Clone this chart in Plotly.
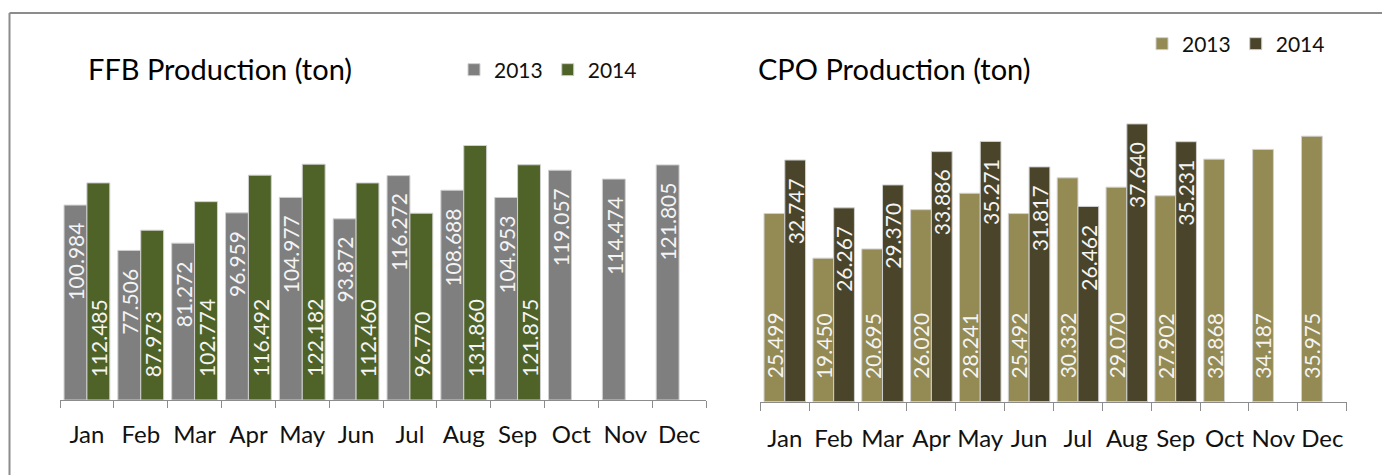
import plotly.graph_objects as go

months = ["Jan", "Feb", "Mar", "Apr", "May", "Jun", "Jul", "Aug", "Sep", "Oct", "Nov", "Dec"]

ffb_2013 = [100984, 77506, 81272, 96959, 104977, 93872, 116272, 108688, 104953, 119057, 114474, 121805]
ffb_2014 = [112485, 87973, 102774, 116492, 122182, 112460, 96770, 131860, 121875, None, None, None]

cpo_2013 = [25499, 19450, 20695, 26020, 28241, 25492, 30332, 29070, 27902, 32868, 34187, 35975]
cpo_2014 = [32747, 26267, 29370, 33886, 35271, 31817, 26462, 37640, 35231, None, None, None]

C_FFB13 = "#7f7f7f"
C_FFB14 = "#4f6228"
C_CPO13 = "#948a54"
C_CPO14 = "#4a452a"

FONT = "Lato, 'Noto Sans', sans-serif"
W, H = 1382, 475


def fmt(v):
    return f"{v:,}".replace(",", ".")


fig = go.Figure()
line = dict(color="#d0d0d0", width=1)

fig.add_trace(go.Bar(x=months, y=ffb_2013, name="2013", marker=dict(color=C_FFB13, line=line),
                     xaxis="x", yaxis="y", legend="legend", hoverinfo="x+y"))
fig.add_trace(go.Bar(x=months, y=ffb_2014, name="2014", marker=dict(color=C_FFB14, line=line),
                     xaxis="x", yaxis="y", legend="legend", hoverinfo="x+y"))
fig.add_trace(go.Bar(x=months, y=cpo_2013, name="2013", marker=dict(color=C_CPO13, line=line),
                     xaxis="x2", yaxis="y2", legend="legend2", hoverinfo="x+y"))
fig.add_trace(go.Bar(x=months, y=cpo_2014, name="2014", marker=dict(color=C_CPO14, line=line),
                     xaxis="x2", yaxis="y2", legend="legend2", hoverinfo="x+y"))

annotations = []
lab_font = dict(family=FONT, size=21, color="#f4f4f4")


def add_labels(values, xref, yref, xshift, at_base):
    for m, v in zip(months, values):
        if v is None:
            continue
        if at_base:
            annotations.append(dict(x=m, y=0, xref=xref, yref=yref, text=fmt(v), showarrow=False,
                                    textangle=-90, xanchor="center", yanchor="bottom",
                                    xshift=xshift, yshift=21, font=lab_font))
        else:
            annotations.append(dict(x=m, y=v, xref=xref, yref=yref, text=fmt(v), showarrow=False,
                                    textangle=-90, xanchor="center", yanchor="top",
                                    xshift=xshift, yshift=-16, font=lab_font))


add_labels(ffb_2013, "x", "y", -11.4, False)
add_labels(ffb_2014, "x", "y", 11.4, True)
add_labels(cpo_2013, "x2", "y2", -10.3, True)
add_labels(cpo_2014, "x2", "y2", 10.3, False)

title_font = dict(family=FONT, size=29, color="#000000")
annotations.append(dict(text="FFB Production (ton)", x=86 / W, y=1 - 68 / H, xref="paper", yref="paper",
                        xanchor="left", yanchor="middle", showarrow=False, font=title_font))
annotations.append(dict(text="CPO Production (ton)", x=756 / W, y=1 - 68 / H, xref="paper", yref="paper",
                        xanchor="left", yanchor="middle", showarrow=False, font=title_font))

axis_common = dict(showgrid=False, zeroline=False, showline=True, linecolor="#8c8c8c", linewidth=1,
                   ticks="outside", tickcolor="#8c8c8c", tickwidth=1, tickson="boundaries", tickangle=0,
                   tickfont=dict(family=FONT, size=24, color="#111111"), fixedrange=True)
yaxis_common = dict(showgrid=False, zeroline=False, showline=False, showticklabels=False, ticks="",
                    fixedrange=True)

legend_common = dict(orientation="h", xanchor="left", yanchor="middle",
                     font=dict(family=FONT, size=21, color="#111111"),
                     bgcolor="rgba(0,0,0,0)", itemclick=False, itemdoubleclick=False)

fig.update_layout(
    width=W, height=H,
    margin=dict(l=0, r=0, t=0, b=0),
    paper_bgcolor="white", plot_bgcolor="white",
    barmode="group",
    bargap=0.15, bargroupgap=0,
    xaxis=dict(domain=[60 / W, 706 / W], anchor="y", ticklen=7, ticklabelstandoff=13, **axis_common),
    yaxis=dict(domain=[1 - 400 / H, 1 - 105 / H], range=[0, 295 / 1.93 * 1000], anchor="x", **yaxis_common),
    xaxis2=dict(domain=[760 / W, 1346.7 / W], anchor="y2", ticklen=8, ticklabelstandoff=15, **axis_common),
    yaxis2=dict(domain=[1 - 401.7 / H, 1 - 105 / H], range=[0, 296.7 / 7.38 * 1000], anchor="x2", **yaxis_common),
    legend=dict(x=454 / W, y=1 - 70 / H, **legend_common),
    legend2=dict(x=1142 / W, y=1 - 44 / H, **legend_common),
    annotations=annotations,
    shapes=[
        dict(type="line", xref="paper", yref="paper", x0=9.5 / W, x1=1, y0=1 - 13 / H, y1=1 - 13 / H,
             line=dict(color="#8c8c8c", width=2)),
        dict(type="line", xref="paper", yref="paper", x0=9.5 / W, x1=9.5 / W, y0=0, y1=1 - 13 / H,
             line=dict(color="#8c8c8c", width=2)),
    ],
    showlegend=True,
)

fig.write_html("out.html", config={"displayModeBar": False},
               post_script="document.body.style.margin='0';document.body.style.overflow='hidden';")
